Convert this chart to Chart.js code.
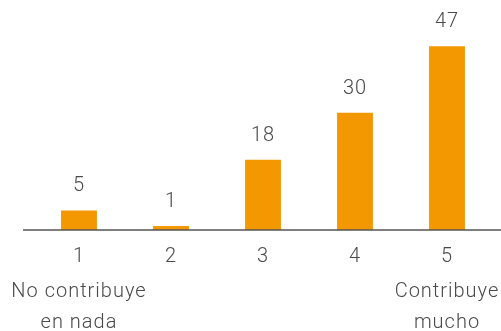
<!DOCTYPE html>
<html>
<head>
<meta charset="utf-8">
<script src="https://cdn.jsdelivr.net/npm/chart.js@4.4.4/dist/chart.umd.min.js"></script>
<style>
    html, body { margin: 0; padding: 0; background: #ffffff; }
    #wrap { width: 501px; height: 331px; position: relative; }
</style>
</head>
<body>
<div id="wrap"><canvas id="chart"></canvas></div>
<script>
const categories = ["1", "2", "3", "4", "5"];
const values = [5, 1, 18, 30, 47];
const subLabels = [["No contribuye", "en nada"], [], [], [], ["Contribuye", "mucho"]];

const barColor = "#f39800";
const textColor = "#4a4a4a";
const fontFamily = "Roboto, 'Open Sans', sans-serif";

// value labels above bars, the baseline and the category labels below it
const annotate = {
    id: "annotate",
    afterDatasetsDraw(chart) {
        const { ctx, scales: { x, y } } = chart;
        const base = y.getPixelForValue(0);
        ctx.save();

        ctx.strokeStyle = "#555555";
        ctx.lineWidth = 1.5;
        ctx.beginPath();
        ctx.moveTo(23, base);
        ctx.lineTo(chart.width, base);
        ctx.stroke();

        ctx.fillStyle = textColor;
        ctx.font = `300 20px ${fontFamily}`;
        ctx.letterSpacing = "1px";
        ctx.textAlign = "center";
        ctx.textBaseline = "middle";

        const meta = chart.getDatasetMeta(0);
        meta.data.forEach((bar, i) => {
            ctx.fillText(String(values[i]), bar.x, bar.y - 24);
        });

        categories.forEach((label, i) => {
            const cx = x.getPixelForValue(i);
            ctx.fillText(label, cx, base + 27);
            const lines = subLabels[i];
            if (lines[0]) ctx.fillText(lines[0], cx, base + 62);
            if (lines[1]) ctx.fillText(lines[1], cx, base + 93);
        });

        ctx.restore();
    }
};

new Chart(document.getElementById("chart"), {
    type: "bar",
    data: {
        labels: categories,
        datasets: [{
            data: values,
            backgroundColor: barColor,
            borderWidth: 0,
            categoryPercentage: 1,
            barPercentage: 0.39
        }]
    },
    options: {
        responsive: true,
        maintainAspectRatio: false,
        animation: false,
        layout: {
            padding: { top: 15, bottom: 101, left: 33, right: 8 }
        },
        scales: {
            x: { display: false },
            y: { display: false, min: 0, max: 55 }
        },
        plugins: {
            legend: { display: false },
            tooltip: { enabled: false }
        }
    },
    plugins: [annotate]
});
</script>
</body>
</html>
